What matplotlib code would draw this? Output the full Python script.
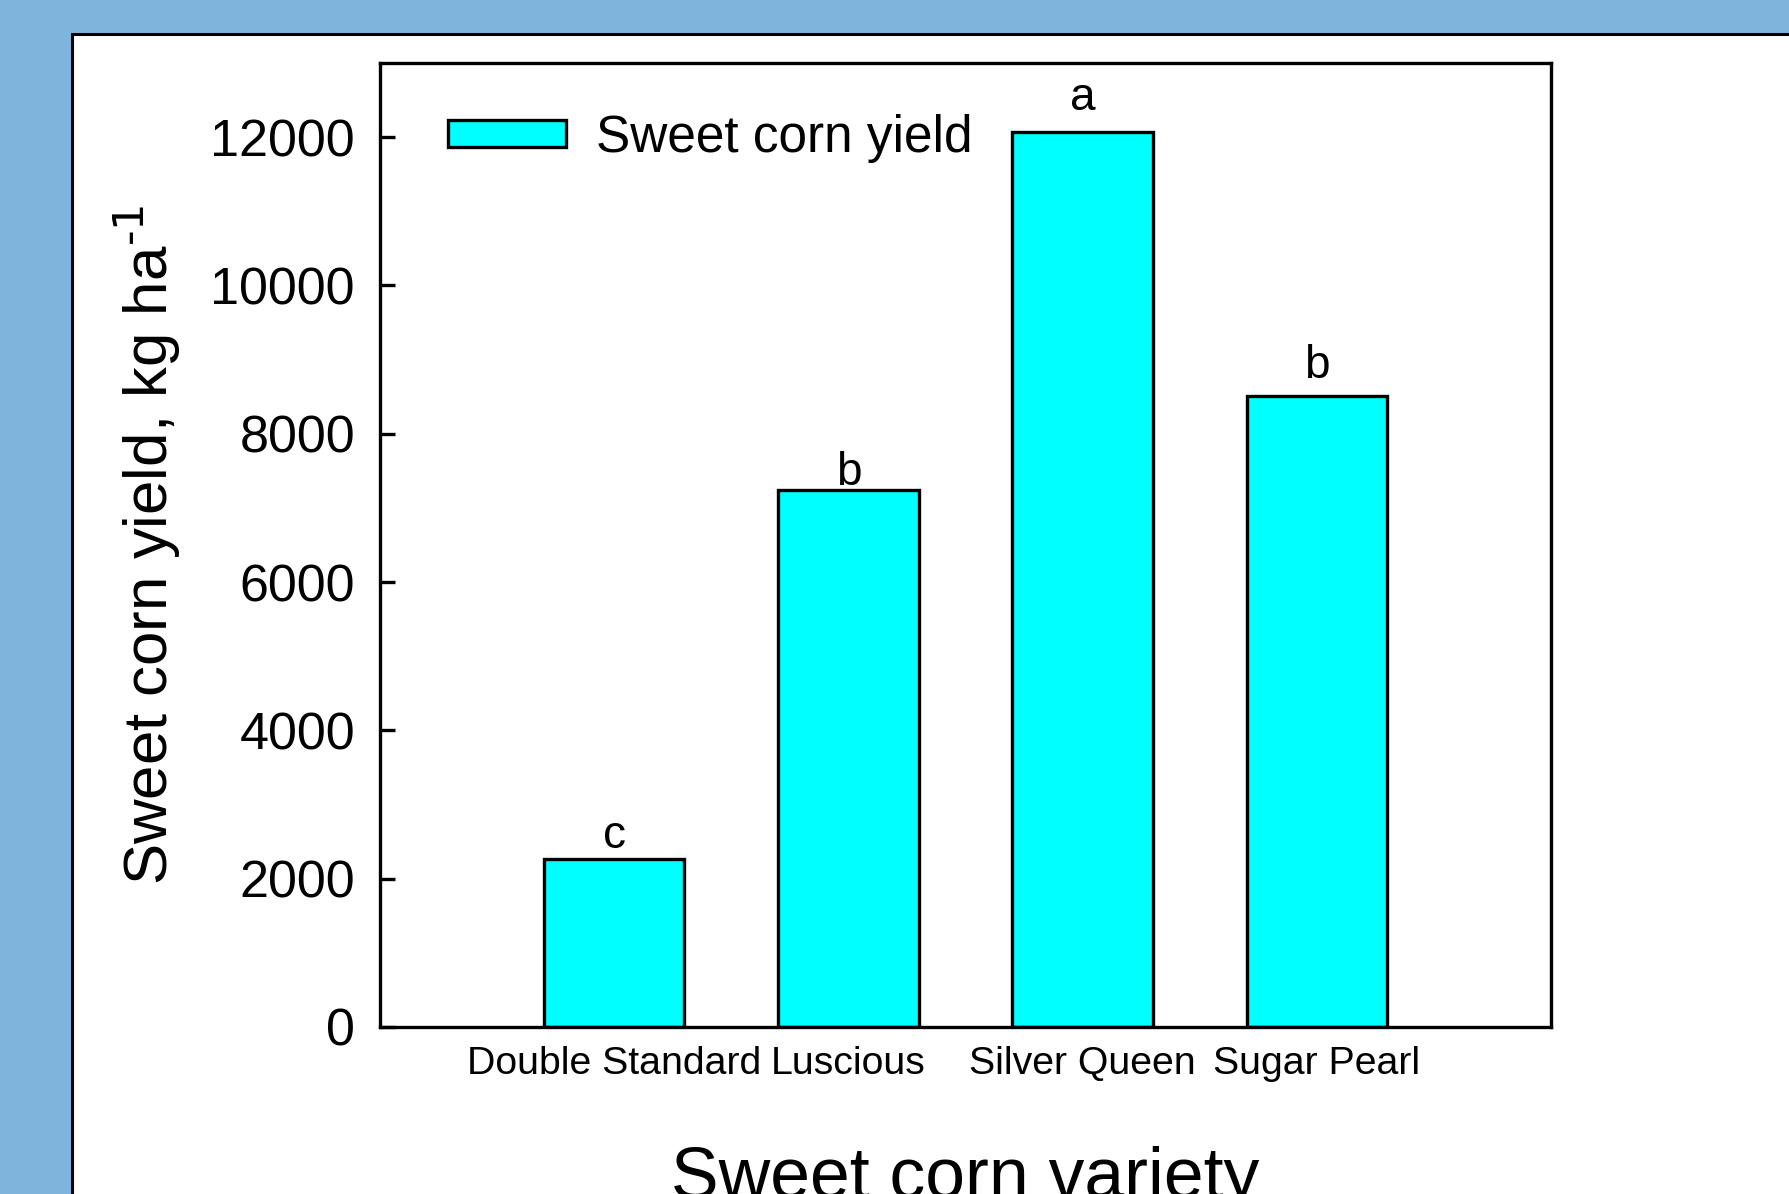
import matplotlib
matplotlib.use('Agg')
import matplotlib.pyplot as plt
from matplotlib.patches import Rectangle

plt.rcParams['font.family'] = ['Liberation Sans', 'DejaVu Sans']

varieties = ['Double Standard', 'Luscious', 'Silver Queen', 'Sugar Pearl']
yield_kg = [2265, 7240, 12070, 8510]
letters = ['c', 'b', 'a', 'b']
letter_offsets = [8, 4, 16, 13]   # points above bar top

W, H = 1789, 1194
fig = plt.figure(figsize=(W / 100, H / 100), dpi=100)
fig.patch.set_facecolor('#7fb5dd')

# white slide panel behind the chart
fig.patches.append(Rectangle((72 / W, -0.1), 2, 1 - 34 / H + 0.1,
                             transform=fig.transFigure, facecolor='white',
                             edgecolor='black', lw=2.2, zorder=-10))

ax = fig.add_axes([380 / W, 1 - 1027 / H, (1551 - 380) / W, (1027 - 63) / H])
ax.set_zorder(5)
ax.set_facecolor('white')

x = range(1, len(varieties) + 1)
ax.bar(x, yield_kg, width=0.6, color='#00ffff', edgecolor='black',
       linewidth=2.4, label='Sweet corn yield', zorder=2)

for xi, v, lt, off in zip(x, yield_kg, letters, letter_offsets):
    ax.annotate(lt, (xi, v), xytext=(0, off), textcoords='offset points',
                ha='center', va='baseline', fontsize=33)

ax.set_xlim(0, 5)
ax.set_ylim(0, 13000)
ax.set_yticks([0, 2000, 4000, 6000, 8000, 10000, 12000])
ax.set_xticks(list(x))
ax.set_xticklabels(varieties, fontsize=28.3)
ax.tick_params(axis='y', direction='in', length=11, width=2.4, labelsize=37.5, pad=18)
ax.tick_params(axis='x', length=0, pad=14)
for s in ax.spines.values():
    s.set_linewidth(2.4)

ax.set_ylabel(r'Sweet corn yield, kg ha$^{\text{-}1}$', fontsize=44.5, labelpad=20)
fig.text((380 + 1551) / 2 / W, 1 - 1146 / H, 'Sweet corn variety',
         ha='center', va='top', fontsize=51.5, zorder=10)

ax.legend(loc='center left', bbox_to_anchor=(0.058, 0.922), frameon=False,
          fontsize=37, handlelength=2.3, handleheight=0.43, handletextpad=0.58,
          borderpad=0, borderaxespad=0)

plt.savefig('out.png', dpi=100, facecolor=fig.get_facecolor())
